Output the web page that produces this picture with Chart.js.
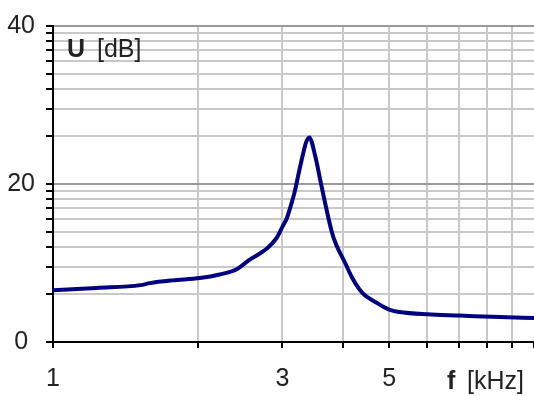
<!DOCTYPE html>
<html>
<head>
<meta charset="utf-8">
<script src="https://cdn.jsdelivr.net/npm/chart.js@4/dist/chart.umd.min.js"></script>
<style>
  html, body { margin: 0; padding: 0; background: #fff; }
  canvas { display: block; }
</style>
</head>
<body>
<canvas id="chart" width="534" height="396"></canvas>
<script>
// frequency response (f in kHz, U in dB)
const freqs  = [1.00, 1.23, 1.52, 1.59, 1.77, 2.02, 2.22, 2.41, 2.56, 2.78, 2.92, 3.00, 3.06, 3.12, 3.18, 3.24, 3.31, 3.36, 3.41, 3.51, 3.60, 3.685, 3.80, 3.88, 4.05, 4.19, 4.40, 4.70, 5.00, 5.25, 6.00, 7.00, 8.50, 10.0];
const levels = [6.55, 6.85, 7.2, 7.45, 7.8, 8.1, 8.55, 9.2, 10.4, 11.8, 13.2, 14.6, 15.6, 17.2, 19.0, 21.3, 23.8, 25.3, 25.9, 23.5, 20.3, 17.4, 13.9, 12.3, 10.0, 8.1, 6.2, 5.0, 4.1, 3.8, 3.5, 3.35, 3.15, 3.05];

// axis ticks
const xTicks = [1, 2, 3, 4, 5, 6, 7, 8, 9, 10];
const xLabels = { 1: '1', 3: '3', 5: '5' };
const ampSteps = [1, 2, 3, 4, 5, 6, 7, 8, 9, 10, 20, 30, 40, 50, 60, 70, 80, 90, 100];
const yTicks = ampSteps.map(a => 20 * Math.log10(a));   // amplitude grid shown in dB
const yLabels = ['0', '20', '40'];

const FONT = '"Liberation Sans", Arial, sans-serif';
const TXT = '#222';

function isMajorDb(v){ return Math.abs(v % 20) < 1e-6 || Math.abs(v % 20 - 20) < 1e-6; }

// axis titles sit inside the plot / beside the tick labels
const titles = {
  id: 'titles',
  afterDraw(chart){
    const c = chart.ctx, a = chart.chartArea;
    c.save();
    c.fillStyle = TXT;
    c.textBaseline = 'middle';
    c.font = 'bold 25px ' + FONT;
    c.fillText('U', a.left + 14, a.top + 24);
    c.font = '25px ' + FONT;
    c.fillText('[dB]', a.left + 44, a.top + 24);
    c.font = 'bold 25px ' + FONT;
    c.fillText('f', 447, a.bottom + 40);
    c.font = '25px ' + FONT;
    c.fillText('[kHz]', 467, a.bottom + 40);
    c.restore();
  }
};

const ctx = document.getElementById('chart').getContext('2d');
new Chart(ctx, {
  type: 'line',
  data: {
    datasets: [{
      data: freqs.map((f, i) => ({ x: f, y: levels[i] })),
      borderColor: '#000080',
      borderWidth: 4,
      pointRadius: 0,
      cubicInterpolationMode: 'monotone',
      fill: false
    }]
  },
  options: {
    responsive: false,
    animation: false,
    layout: { padding: { top: 20, right: 0, left: 0, bottom: 0 } },
    plugins: { legend: { display: false }, tooltip: { enabled: false } },
    scales: {
      x: {
        type: 'logarithmic',
        min: 1, max: 10,
        afterBuildTicks: s => { s.ticks = xTicks.map(v => ({ value: v })); },
        // fixed height, and no side padding so the plot runs to the right edge
        afterFit: s => { s.height = 54; s.paddingLeft = 0; s.paddingRight = 0; },
        border: { color: '#000', width: 2 },
        grid: {
          color: c => (c.tick && (c.tick.value === 1 || c.tick.value === 10)) ? 'rgba(0,0,0,0)' : '#c8c8c8',
          lineWidth: 2,
          tickColor: '#000',
          tickLength: 6,
          tickWidth: 2
        },
        ticks: {
          autoSkip: false, maxRotation: 0, minRotation: 0,
          padding: 16,
          color: TXT,
          font: { family: FONT, size: 25 },
          callback: v => xLabels[v] || ''
        }
      },
      y: {
        type: 'linear',
        min: 0, max: 40,
        afterBuildTicks: s => { s.ticks = yTicks.map(v => ({ value: v })); },
        afterFit: s => { s.width = 53; },
        border: { color: '#000', width: 2 },
        grid: {
          color: c => (c.tick && isMajorDb(c.tick.value)) ? '#9a9a9a' : '#c8c8c8',
          lineWidth: 2,
          tickColor: '#000',
          tickLength: 7,
          tickWidth: 2
        },
        ticks: {
          autoSkip: false,
          crossAlign: 'center',
          padding: 11,
          color: TXT,
          font: { family: FONT, size: 25 },
          callback: v => isMajorDb(v) ? yLabels[Math.round(v / 20)] : ''
        }
      }
    }
  },
  plugins: [titles]
});
</script>
</body>
</html>
